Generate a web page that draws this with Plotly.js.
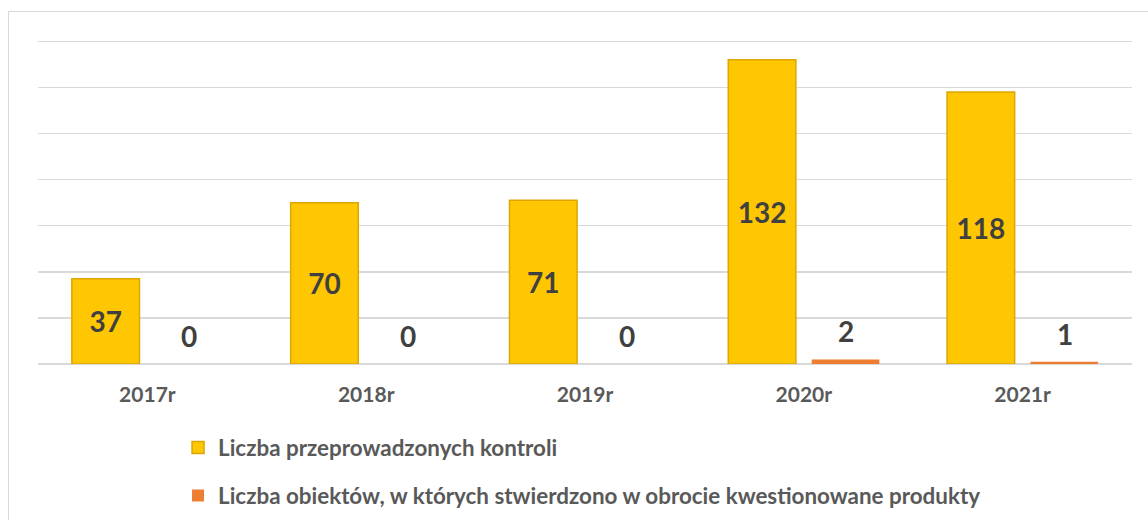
<!DOCTYPE html>
<html><head><meta charset="utf-8">
<script src="https://cdn.plot.ly/plotly-3.0.1.min.js"></script>
<style>
html,body{margin:0;padding:0;background:#fff;}
#frame{position:absolute;left:8px;top:11px;width:1160px;height:540px;border:1.5px solid #D9D9D9;box-sizing:border-box;}
#chart{position:absolute;left:0;top:0;width:1148px;height:520px;}
</style></head>
<body>
<div id="frame"></div>
<div id="chart"></div>
<script>
const years = ["2017r","2018r","2019r","2020r","2021r"];
const controls = [37, 70, 71, 132, 118];
const objects = [0, 0, 0, 2, 1];
const seriesNames = ["Liczba przeprowadzonych kontroli","Liczba obiektów, w których stwierdzono w obrocie kwestionowane produkty"];

const FONT = "Lato, 'Open Sans', sans-serif";

const t1 = {
  type:'bar', x:years, y:controls, name:seriesNames[0], legendgroup:'a',
  marker:{color:'#FFC602', line:{color:'#DDA600', width:1.5}},
  text:controls.map(String), textposition:'inside', insidetextanchor:'middle',
  textfont:{family:FONT, size:28, color:'#404040', weight:'bold'},
  hoverinfo:'x+y'
};
const t2 = {
  type:'bar', x:years, y:objects, name:seriesNames[1], legendgroup:'b',
  marker:{color:'#ED7D31', line:{width:0}},
  hoverinfo:'x+y'
};

const annotations = years.map((yr,i)=>({
  xref:'x', yref:'y', x:yr, y:objects[i], text:String(objects[i]),
  showarrow:false, xshift:42, yshift:28,
  font:{family:FONT, size:28, color:'#404040', weight:'bold'}
}));

const layout = {
  width:1148, height:520,
  paper_bgcolor:'rgba(0,0,0,0)', plot_bgcolor:'rgba(0,0,0,0)',
  margin:{l:38, r:16, t:39, b:156, autoexpand:false},
  barmode:'group', bargap:0.237, bargroupgap:0.19,
  showlegend:true,
  legend:{x:0.128, xanchor:'left', y:-0.192, yanchor:'top', orientation:'v',
    tracegroupgap:16, font:{family:FONT, size:22.4, color:'#595959', weight:'bold'},
    itemwidth:30, bgcolor:'rgba(0,0,0,0)'},
  xaxis:{type:'category', showline:false, ticks:'', showgrid:false, zeroline:false,
    tickfont:{family:FONT, size:21, color:'#595959', weight:'bold'}, ticklabelstandoff:16},
  yaxis:{range:[0,141], dtick:20, showticklabels:false, gridcolor:'#D9D9D9', gridwidth:1.5,
    zeroline:true, zerolinecolor:'#D9D9D9', zerolinewidth:1.5, ticks:''},
  annotations:annotations
};

Plotly.newPlot('chart',[t1,t2],layout,{displayModeBar:false, staticPlot:true});
</script>
</body></html>
